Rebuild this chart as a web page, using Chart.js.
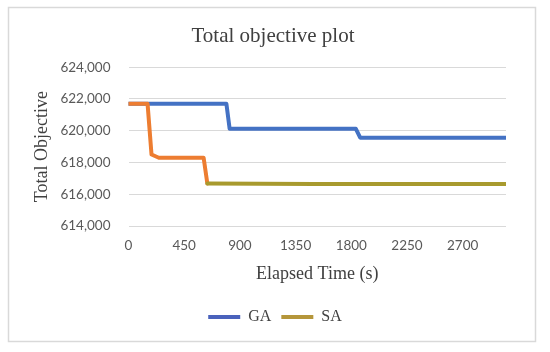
<!DOCTYPE html>
<html>
<head>
<meta charset="utf-8">
<script src="https://cdn.jsdelivr.net/npm/chart.js@4"></script>
<style>
  html, body { margin: 0; padding: 0; background: #ffffff; }
  #wrap { width: 550px; height: 352px; position: relative; }
</style>
</head>
<body>
<div id="wrap"><canvas id="c" width="550" height="352"></canvas></div>
<script>
// ---- data ----
const chartTitle = "Total objective plot";
const xAxisTitle = "Elapsed Time (s)";
const yAxisTitle = "Total Objective";
const seriesNames = ["GA", "SA"];

const gaTimes  = [0, 791, 817, 1837, 1872, 3050];
const gaValues = [621700, 621700, 620120, 620120, 619560, 619560];

const saTimes  = [0, 154, 186, 245, 607, 637, 1500, 3050];
const saValues = [621700, 621700, 618500, 618300, 618300, 616680, 616650, 616650];

const xTicks = [0, 450, 900, 1350, 1800, 2250, 2700];
const yTicks = [614000, 616000, 618000, 620000, 622000, 624000];

// ---- styles ----
const GA_COLOR = "#4472C4";
const SA_COLOR_A = "#ED7D31";
const SA_COLOR_B = "#A89A2E";
const LEGEND_GA = "#4A62BC";
const LEGEND_SA = "#B5963A";
const SERIF = "'Liberation Serif', 'DejaVu Serif', serif";
const SANS = "Lato, 'Open Sans', sans-serif";

const toPoints = (xs, ys) => xs.map((x, i) => ({ x: x, y: ys[i] }));

const framePlugin = {
  id: 'frame',
  beforeDraw(chart) {
    const ctx = chart.ctx;
    ctx.save();
    ctx.fillStyle = '#ffffff';
    ctx.fillRect(0, 0, chart.width, chart.height);
    ctx.strokeStyle = '#D9D9D9';
    ctx.lineWidth = 1.5;
    ctx.strokeRect(8.5, 7.5, 527, 334);
    ctx.restore();
  },
  afterLayout(chart) {
    // centre title and legend on the whole frame, not just the plot
    if (chart.titleBlock) {
      chart.titleBlock.left = 0;
      chart.titleBlock.right = 546;
      chart.titleBlock.width = 546;
    }
    if (chart.legend) {
      chart.legend.left = 0;
      chart.legend.right = 550;
      chart.legend.width = 550;
    }
  }
};

new Chart(document.getElementById('c'), {
  type: 'line',
  data: {
    datasets: [
      {
        label: seriesNames[0],
        data: toPoints(gaTimes, gaValues),
        borderColor: GA_COLOR,
        backgroundColor: LEGEND_GA,
        borderWidth: 4,
        pointRadius: 0,
        tension: 0,
        borderCapStyle: 'round',
        borderJoinStyle: 'round',
        order: 1
      },
      {
        label: seriesNames[1],
        data: toPoints(saTimes, saValues),
        borderColor: SA_COLOR_A,
        backgroundColor: LEGEND_SA,
        borderWidth: 4,
        pointRadius: 0,
        tension: 0,
        borderCapStyle: 'round',
        borderJoinStyle: 'round',
        segment: {
          borderColor: c => (c.p0DataIndex >= 5 ? SA_COLOR_B : SA_COLOR_A)
        },
        order: 0
      }
    ]
  },
  options: {
    responsive: false,
    animation: false,
    devicePixelRatio: 1,
    layout: { padding: { left: 0, right: 44, top: 0, bottom: 17 } },
    plugins: {
      title: {
        display: true,
        text: chartTitle,
        color: '#404040',
        font: { family: SERIF, size: 21, weight: 'normal', lineHeight: 1.2 },
        padding: { top: 24, bottom: 18 }
      },
      legend: {
        display: true,
        position: 'bottom',
        labels: {
          color: '#404040',
          font: { family: SERIF, size: 16 },
          boxWidth: 32,
          boxHeight: 4,
          padding: 10,
          generateLabels(chart) {
            return chart.data.datasets.map((ds, i) => ({
              text: ds.label,
              fillStyle: ds.backgroundColor,
              strokeStyle: ds.backgroundColor,
              lineWidth: 0,
              hidden: false,
              datasetIndex: i,
              fontColor: '#404040'
            }));
          }
        }
      },
      tooltip: { enabled: false }
    },
    scales: {
      x: {
        type: 'linear',
        min: 0,
        max: gaTimes[gaTimes.length - 1],
        grid: { display: false, drawTicks: false },
        border: { display: false },
        afterBuildTicks(scale) { scale.ticks = xTicks.map(v => ({ value: v })); },
        afterFit(scale) { scale.height = 73; },
        ticks: {
          color: '#595959',
          font: { family: SANS, size: 13.5 },
          padding: 12,
          maxRotation: 0,
          autoSkip: false,
          callback: v => String(v)
        },
        title: {
          display: true,
          text: xAxisTitle,
          color: '#404040',
          font: { family: SERIF, size: 18, lineHeight: 1.2 },
          padding: { top: 0, bottom: 14 }
        }
      },
      y: {
        type: 'linear',
        min: yTicks[0],
        max: yTicks[yTicks.length - 1],
        grid: { color: '#D9D9D9', lineWidth: 1, drawTicks: false },
        border: { display: false },
        afterBuildTicks(scale) { scale.ticks = yTicks.map(v => ({ value: v })); },
        afterFit(scale) { scale.width = 128.5; },
        ticks: {
          color: '#595959',
          font: { family: SANS, size: 13.5 },
          padding: 18,
          callback: v => v.toLocaleString('en-US')
        },
        title: {
          display: true,
          text: yAxisTitle,
          color: '#404040',
          font: { family: SERIF, size: 18, lineHeight: 1.2 },
          padding: { top: 31, bottom: 0 }
        }
      }
    }
  },
  plugins: [framePlugin]
});
</script>
</body>
</html>
